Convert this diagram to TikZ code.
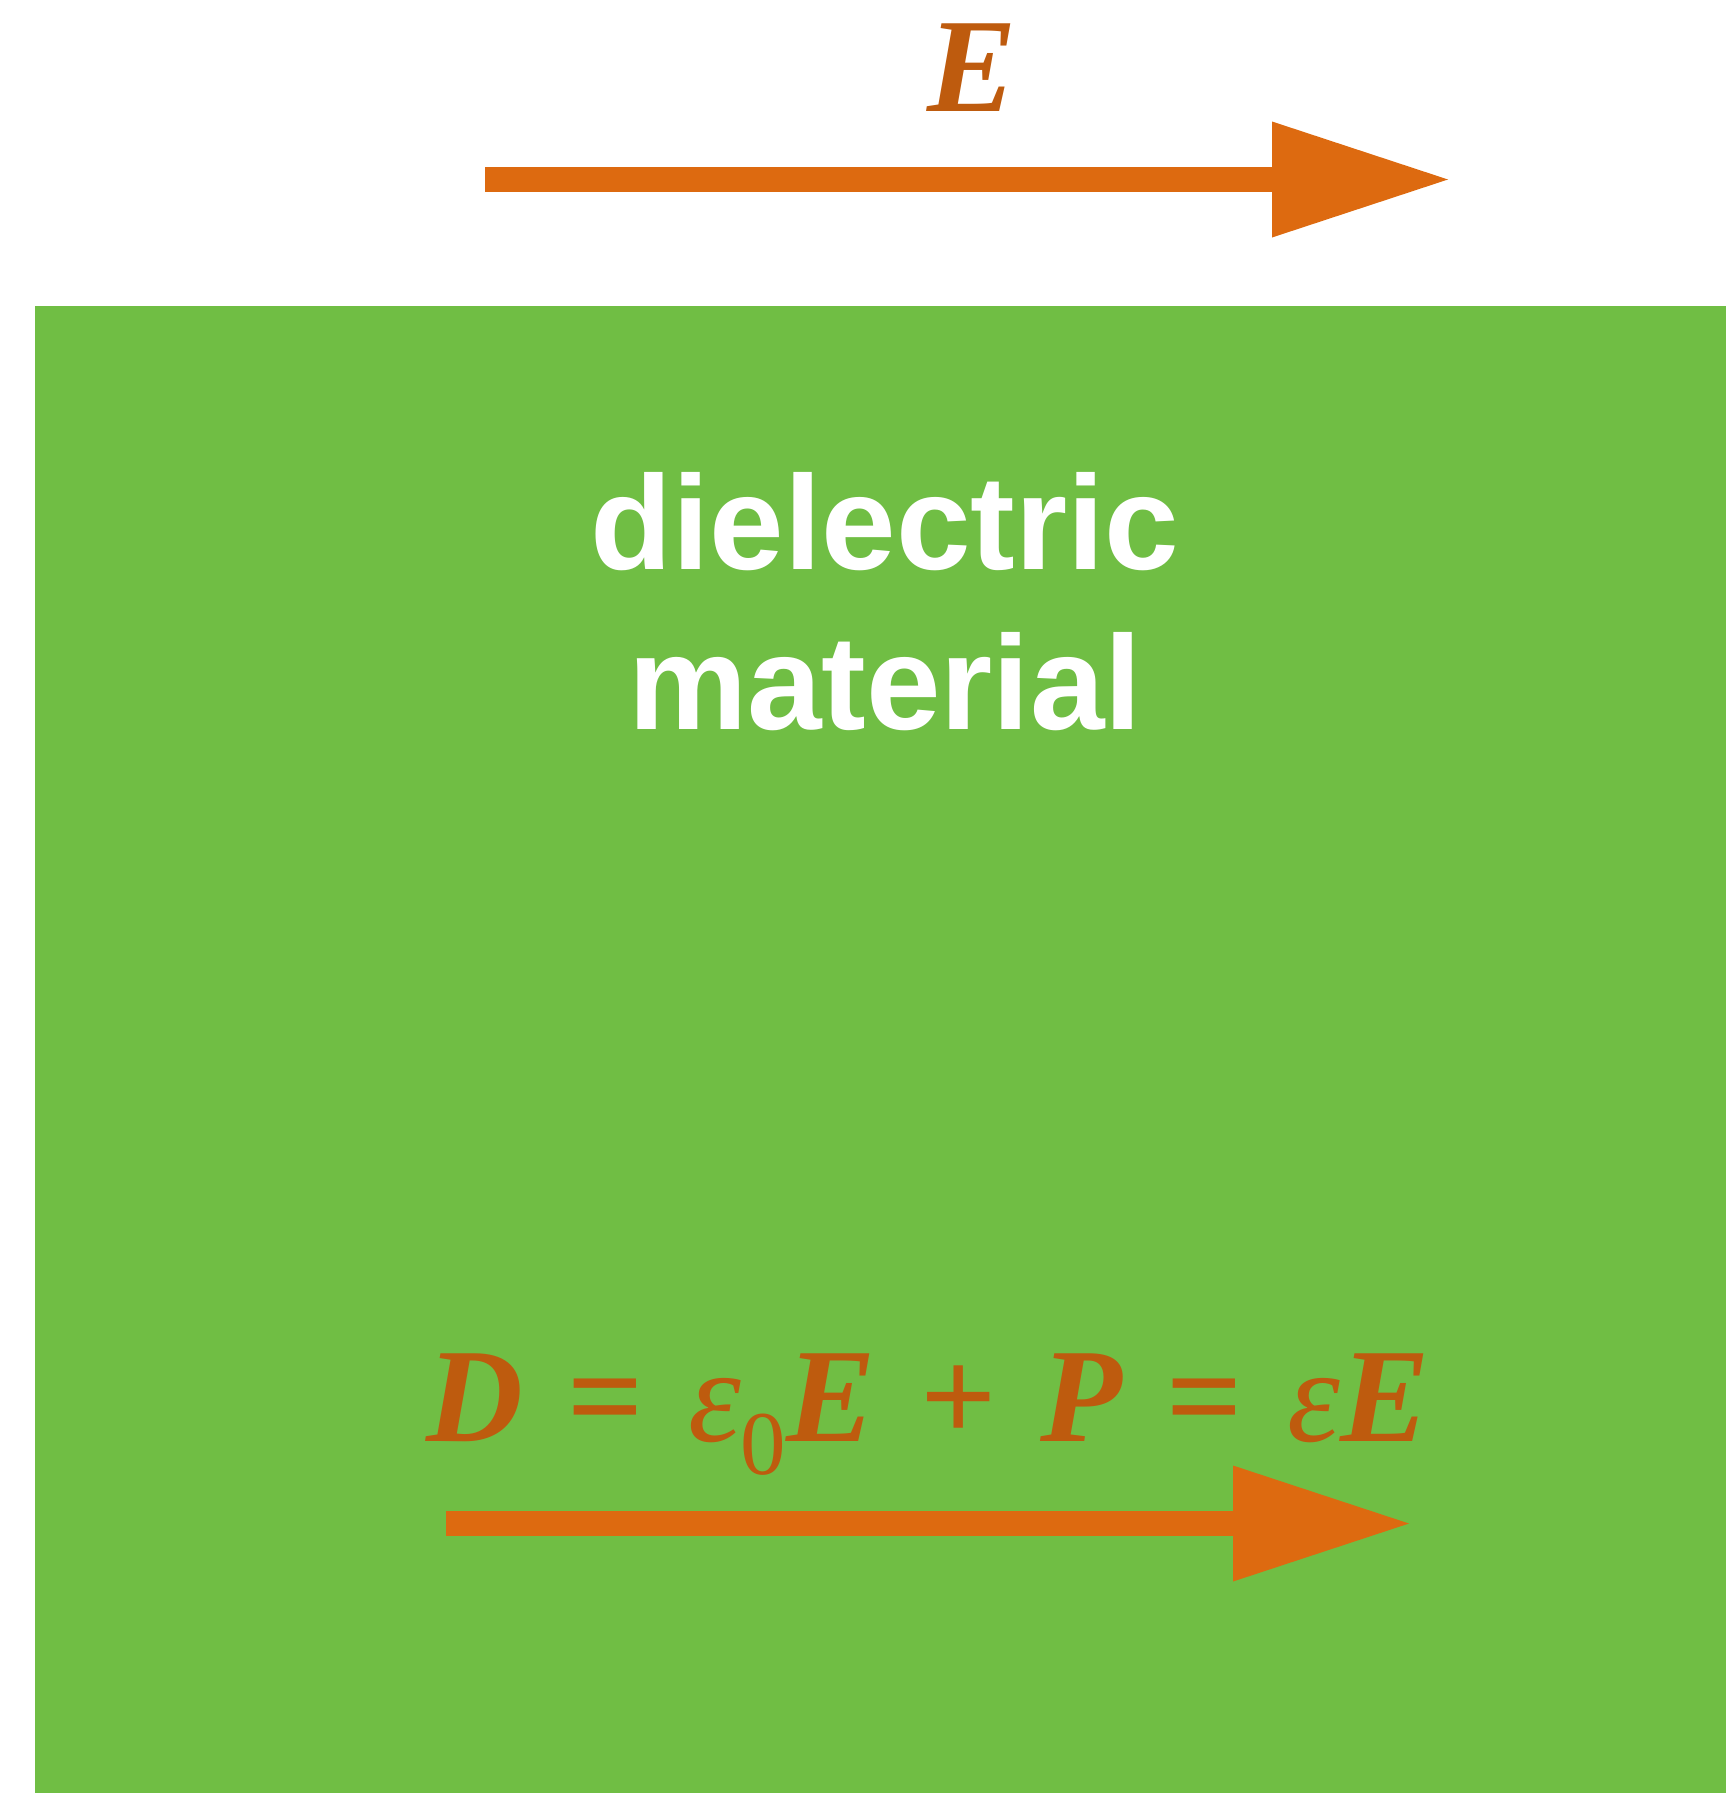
\documentclass[tikz,border=0pt]{standalone}
\usepackage{fontspec}
\setmainfont{Liberation Serif}
\newfontfamily\labelfont{Liberation Sans}
\usetikzlibrary{arrows.meta}
\definecolor{matgreen}{HTML}{70BE44}
\definecolor{arrorange}{HTML}{DD6A10}
\definecolor{txtorange}{HTML}{BE5B0E}
\tikzset{
  fieldarrow/.style={draw=arrorange, line width=25pt,
    -{Triangle[length=176pt,width=116pt,line width=0pt]}},
  eqtext/.style={text=txtorange, inner sep=0pt, font=\fontsize{134}{140}\selectfont},
  mattext/.style={text=white, inner sep=0pt, font=\labelfont\bfseries\fontsize{134}{160}\selectfont},
}
\newcommand{\bi}[1]{{\bfseries\itshape #1}}
\newcommand{\eqsp}{\hspace{0.33em}}
\begin{document}
\begin{tikzpicture}[x=1pt,y=-1pt]
\useasboundingbox (0,0) rectangle (1726,1793);
\fill[matgreen] (35,306) rectangle (1726,1793);
% top field arrow
\coordinate (t1) at (485,179.5);
\coordinate (t2) at (1448,179.5);
\draw[fieldarrow] (t1) -- (t2);
\node[eqtext, anchor=base] (elabel) at (972,111) {\bi{E}};
% material label
\node[mattext, anchor=base] (lab1) at (885,569.6) {dielectric};
\node[mattext, anchor=base] (lab2) at (885,729.7) {material};
% equation
\node[eqtext, anchor=base] (eq) at (928,1441) {\bi{D}\eqsp{\bfseries =}\eqsp{\itshape ε}\raisebox{-0.25em}{\fontsize{91}{91}\selectfont 0}\bi{E}\eqsp{\bfseries +}\eqsp\bi{P}\eqsp{\bfseries =}\eqsp{\itshape ε}\bi{E}};
% bottom arrow
\coordinate (b1) at (446,1523.5);
\coordinate (b2) at (1409,1523.5);
\draw[fieldarrow] (b1) -- (b2);
\end{tikzpicture}
\end{document}
